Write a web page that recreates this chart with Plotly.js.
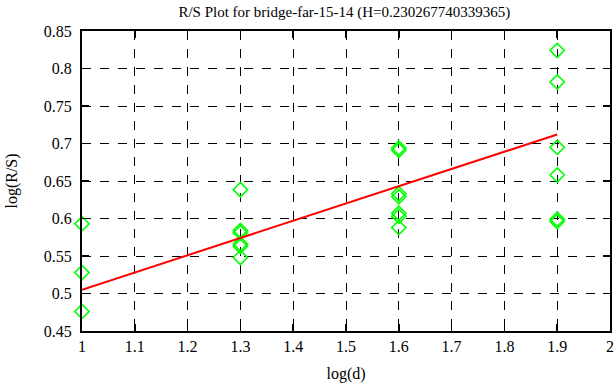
<!DOCTYPE html>
<html><head><meta charset="utf-8">
<script src="https://cdn.plot.ly/plotly-3.0.1.min.js"></script>
<style>html,body{margin:0;padding:0;background:#fff}#plot{width:616px;height:387px}</style>
</head><body><div id="plot"></div>
<script>
var ptX = [1,1,1, 1.3,1.3,1.3,1.3,1.3,1.3, 1.6,1.6,1.6,1.6,1.6,1.6,1.6, 1.9,1.9,1.9,1.9,1.9,1.9];
var ptY = [0.593,0.528,0.476, 0.6385,0.584,0.581,0.566,0.563,0.548, 0.694,0.691,0.633,0.629,0.607,0.603,0.588, 0.824,0.782,0.695,0.658,0.599,0.596];
var fitX = [1, 1.9];
var fitY = [0.505, 0.712];
var titleText = 'R/S Plot for bridge-far-15-14 (H=0.230267740339365)';

var font = '"Liberation Serif", "Times New Roman", serif';
var traces = [
  {x: ptX, y: ptY, mode: 'markers', type: 'scatter', cliponaxis: false,
   marker: {symbol: 'diamond-open', size: 11, color: '#00ff00', line: {width: 1.6, color: '#00ff00'}}},
  {x: fitX, y: fitY, mode: 'lines', type: 'scatter', line: {color: '#ff0000', width: 2}}
];
function axisCommon() {
  return {
    showline: true, linecolor: '#000', linewidth: 2, mirror: 'ticks',
    ticks: 'inside', ticklen: 7, tickwidth: 1.5, tickcolor: '#000',
    showgrid: true, gridcolor: '#000', griddash: 'dash', gridwidth: 1,
    zeroline: false, tickfont: {family: font, size: 16, color: '#000'}
  };
}
var layout = {
  width: 616, height: 387,
  margin: {l: 82, r: 6, t: 31, b: 56},
  font: {family: font, size: 16, color: '#000'},
  paper_bgcolor: '#fff', plot_bgcolor: '#fff',
  showlegend: false,
  title: {text: titleText, font: {family: font, size: 15, color: '#000'}, x: 0.559, xanchor: 'center', y: 0.97, yanchor: 'middle'},
  xaxis: Object.assign(axisCommon(), {range: [1, 2], dtick: 0.1, tick0: 1,
    title: {text: 'log(d)', font: {family: font, size: 16, color: '#000'}, standoff: 14}}),
  yaxis: Object.assign(axisCommon(), {range: [0.45, 0.85], dtick: 0.05, tick0: 0.45,
    ticklabelstandoff: 5,
    title: {text: 'log(R/S)', font: {family: font, size: 16, color: '#000'}, standoff: 22}})
};
Plotly.newPlot('plot', traces, layout, {staticPlot: true, displayModeBar: false});
</script></body></html>
